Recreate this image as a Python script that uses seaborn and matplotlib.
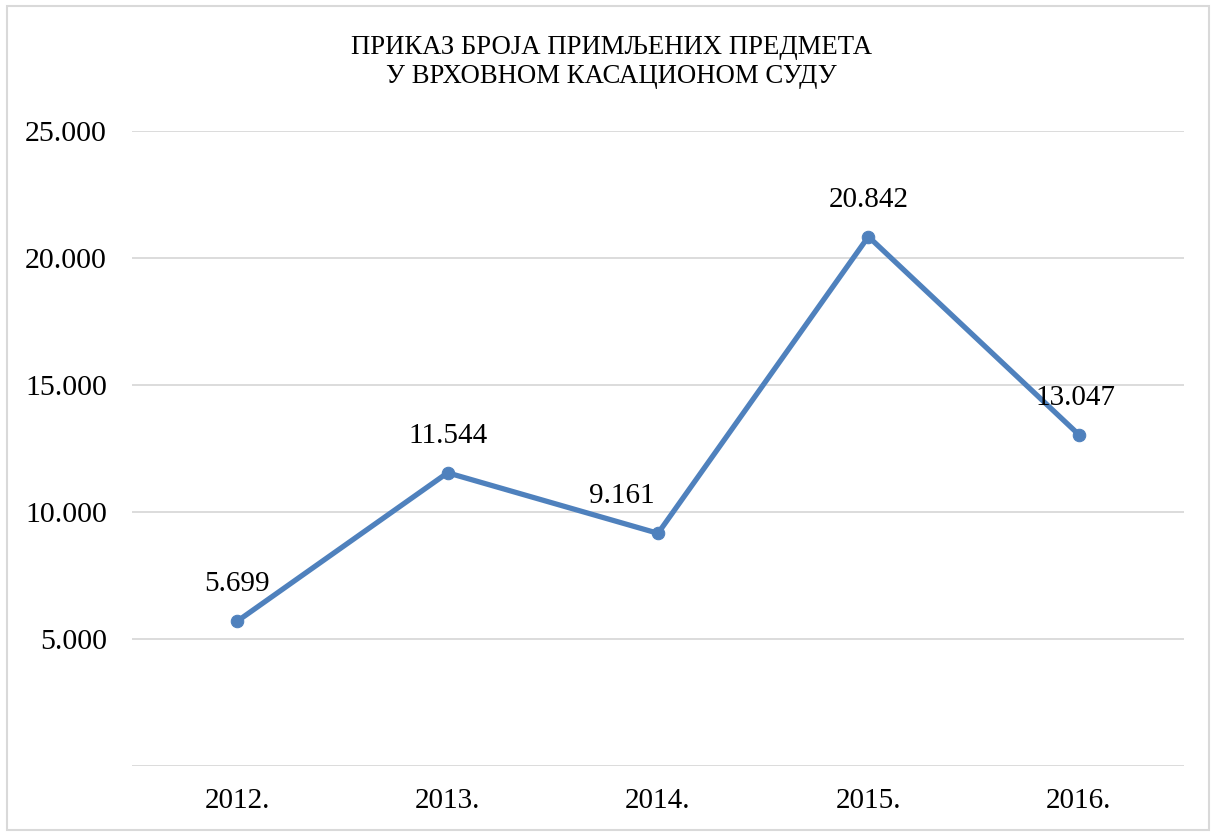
import matplotlib
matplotlib.use("Agg")
import matplotlib.pyplot as plt
import numpy as np
import pandas as pd
import seaborn as sns
from matplotlib.patches import Rectangle

# --- data ---
years = ["2012.", "2013.", "2014.", "2015.", "2016."]
cases = [5699, 11544, 9161, 20842, 13047]
case_labels = ["5.699", "11.544", "9.161", "20.842", "13.047"]
# label offsets (px) as Excel placed them
label_dx = [0, 0, -36, 0, -3]
label_dy = [37, 37, 37, 37, 37]

y_ticks = [0, 5000, 10000, 15000, 20000, 25000]
y_tick_labels = ["", "5.000", "10.000", "15.000", "20.000", "25.000"]

TITLE = "ПРИКАЗ БРОЈА ПРИМЉЕНИХ ПРЕДМЕТА\nУ ВРХОВНОМ КАСАЦИОНОМ СУДУ"
LINE_COLOR = "#4F81BD"
GRID_COLOR = "#D9D9D9"

sns.set_theme(style="white")
plt.rcParams["font.family"] = ["Liberation Serif", "DejaVu Serif"]

df = pd.DataFrame({"pos": np.arange(len(years)), "cases": cases})

fig = plt.figure(figsize=(12.16, 8.32), dpi=100)
ax = fig.add_axes([132 / 1216, 1 - 766 / 832, (1184 - 132) / 1216, (766 - 131) / 832])

sns.lineplot(data=df, x="pos", y="cases", ax=ax, color=LINE_COLOR, lw=3.8,
             marker="o", markersize=9, markeredgecolor=LINE_COLOR, zorder=3)

for i, (v, lab) in enumerate(zip(cases, case_labels)):
    ax.annotate(lab, (i, v), xytext=(label_dx[i], label_dy[i]), textcoords="offset pixels",
                ha="center", va="center", fontsize=21, color="black", zorder=4)

ax.set_xlim(-0.5, len(years) - 0.5)
ax.set_ylim(0, 25000)
ax.set_xticks(range(len(years)))
ax.set_xticklabels(years)
ax.set_yticks(y_ticks)
ax.set_yticklabels(y_tick_labels)
ax.set_xlabel("")
ax.set_ylabel("")
ax.grid(axis="y", color=GRID_COLOR, lw=1.3)
ax.grid(axis="x", visible=False)
for s in ax.spines.values():
    s.set_visible(False)
ax.tick_params(axis="y", length=0, pad=18, labelsize=21.5, labelcolor="black")
ax.tick_params(axis="x", length=0, pad=16, labelsize=21, labelcolor="black")

fig.text(0.503, 1 - 62 / 832, TITLE, ha="center", va="center", fontsize=19.3,
         linespacing=1.2, color="black")

# chart border
fig.patches.append(Rectangle((7 / 1216, 1 - 830 / 832), 1 - 14 / 1216, 824 / 832,
                             transform=fig.transFigure, fill=False,
                             edgecolor=GRID_COLOR, lw=1.5))

fig.savefig("out.png", dpi=100)
